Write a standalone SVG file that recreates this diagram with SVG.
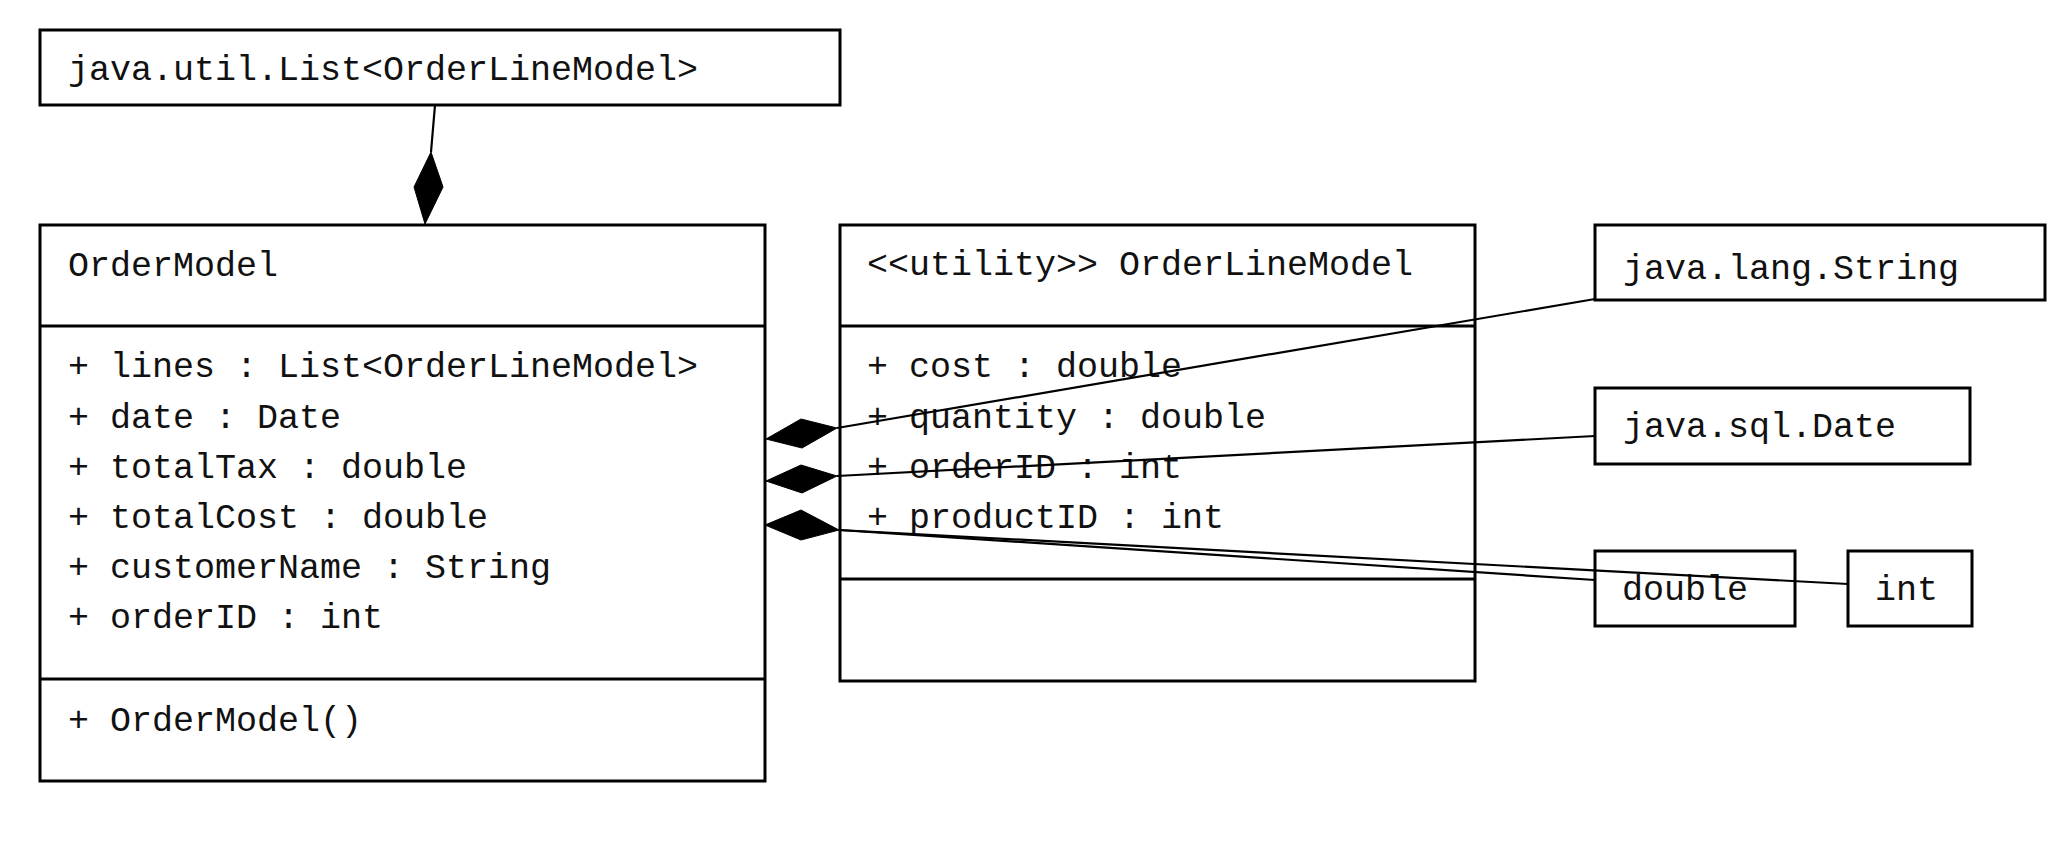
<svg xmlns="http://www.w3.org/2000/svg" width="2062" height="845" viewBox="0 0 2062 845">
<style>
.box{fill:#fff;stroke:#000;stroke-width:3}
.div{stroke:#000;stroke-width:3}
.t{font-family:"Liberation Mono","Courier New",monospace;font-size:35px;fill:#111}
.c{stroke:#000;stroke-width:2.2;fill:none}
.d{fill:#000;stroke:#000;stroke-width:1}
</style>
<rect width="2062" height="845" fill="#fff"/>
<g id="node-list">
<rect class="box" x="40" y="30" width="800" height="75"/>
<text class="t" x="68" y="80">java.util.List&lt;OrderLineModel&gt;</text>
</g>
<g id="node-ordermodel">
<rect class="box" x="40" y="225" width="725" height="556"/>
<line class="div" x1="40" y1="326" x2="765" y2="326"/>
<line class="div" x1="40" y1="679" x2="765" y2="679"/>
<text class="t" x="68" y="276">OrderModel</text>
<text class="t" x="68" y="377">+ lines : List&lt;OrderLineModel&gt;</text>
<text class="t" x="68" y="428">+ date : Date</text>
<text class="t" x="68" y="478">+ totalTax : double</text>
<text class="t" x="68" y="528">+ totalCost : double</text>
<text class="t" x="68" y="578">+ customerName : String</text>
<text class="t" x="68" y="628">+ orderID : int</text>
<text class="t" x="68" y="731">+ OrderModel()</text>
</g>
<g id="node-orderlinemodel">
<rect class="box" x="840" y="225" width="635" height="456"/>
<line class="div" x1="840" y1="326" x2="1475" y2="326"/>
<line class="div" x1="840" y1="579" x2="1475" y2="579"/>
<text class="t" x="867" y="275">&lt;&lt;utility&gt;&gt; OrderLineModel</text>
<text class="t" x="867" y="377">+ cost : double</text>
<text class="t" x="867" y="428">+ quantity : double</text>
<text class="t" x="867" y="478">+ orderID : int</text>
<text class="t" x="867" y="528">+ productID : int</text>
</g>
<g id="node-string">
<rect class="box" x="1595" y="225" width="450" height="75"/>
<text class="t" x="1623" y="279">java.lang.String</text>
</g>
<g id="node-date">
<rect class="box" x="1595" y="388" width="375" height="76"/>
<text class="t" x="1623" y="437">java.sql.Date</text>
</g>
<g id="node-double">
<rect class="box" x="1595" y="551" width="200" height="75"/>
<text class="t" x="1622" y="600">double</text>
</g>
<g id="node-int">
<rect class="box" x="1848" y="551" width="124" height="75"/>
<text class="t" x="1875" y="600">int</text>
</g>
<g id="connectors">
<line class="c" x1="435" y1="105" x2="431" y2="152"/>
<polygon class="d" points="431,152 443,187 425,224 414,187"/>
<line class="c" x1="837" y1="428" x2="1595" y2="299"/>
<polygon class="d" points="837,428 802,448 766,439 801,419"/>
<line class="c" x1="837" y1="476" x2="1595" y2="436"/>
<polygon class="d" points="837,476 802,493 766,481 801,465"/>
<line class="c" x1="839" y1="530" x2="1595" y2="580"/>
<line class="c" x1="839" y1="530" x2="1848" y2="584"/>
<polygon class="d" points="839,530 801,540 765,525 801,510"/>
</g>
</svg>
